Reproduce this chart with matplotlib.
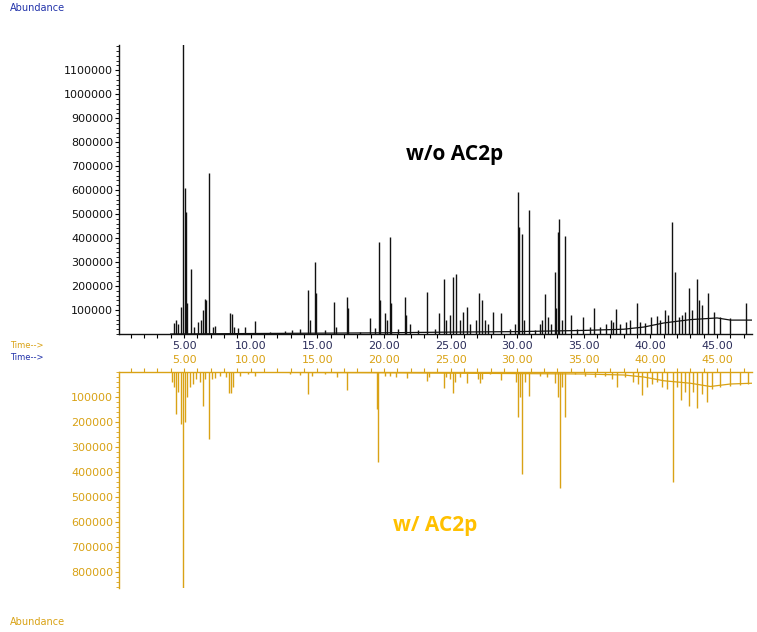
import matplotlib
matplotlib.use("Agg")
import matplotlib.pyplot as plt
from matplotlib.ticker import MultipleLocator, FormatStrFormatter

# retention time (min) and abundance of the main peaks
top_peak_t = [4.25, 4.4, 4.55, 4.78, 4.93, 5.08, 5.15, 5.22, 5.53, 5.75, 6.05, 6.28, 6.43, 6.58,
              6.65, 6.88, 7.18, 7.33, 8.45, 8.6, 8.75, 9.05, 9.58, 10.33, 11.45, 12.58, 13.1,
              13.7, 14.3, 14.45, 14.83, 14.9, 15.58, 16.25, 16.4, 17.23, 17.3, 18.2, 18.95,
              19.33, 19.63, 19.7, 20.08, 20.23, 20.45, 20.53, 21.05, 21.58, 21.65, 21.95, 22.55,
              23.23, 23.83, 24.13, 24.5, 24.65, 24.95, 25.18, 25.4, 25.7, 25.93, 26.23, 26.45,
              26.9, 27.13, 27.36, 27.58, 27.8, 28.18, 28.78, 29.45, 29.83, 30.06, 30.13, 30.36,
              30.5, 30.88, 31.33, 31.7, 31.85, 32.08, 32.3, 32.53, 32.83, 32.9, 33.05, 33.13,
              33.35, 33.58, 34.03, 34.48, 34.93, 35.46, 35.76, 36.2, 36.66, 37.03, 37.18, 37.41,
              37.71, 38.16, 38.46, 38.98, 39.2, 39.58, 40.03, 40.48, 40.7, 41.08, 41.3, 41.6,
              41.83, 42.13, 42.36, 42.58, 42.88, 43.1, 43.48, 43.63, 43.86, 44.31, 44.76, 45.21,
              45.96, 47.16]
top_peak_h = [46000, 60000, 40000, 112000, 1300000, 608000, 508000, 129000, 271000, 30000, 50000,
              60000, 100000, 146000, 140000, 670000, 30000, 35000, 88000, 85000, 30000, 25000,
              30000, 54000, 10000, 12000, 15000, 20000, 183000, 60000, 300000, 171000, 15000,
              133000, 30000, 154000, 110000, 10000, 67000, 25000, 383000, 140000, 88000, 60000,
              404000, 130000, 20000, 154000, 80000, 40000, 15000, 175000, 20000, 88000, 229000,
              60000, 80000, 238000, 250000, 60000, 90000, 112000, 40000, 60000, 171000, 142000,
              60000, 40000, 92000, 88000, 20000, 40000, 592000, 446000, 417000, 60000, 517000,
              15000, 40000, 60000, 167000, 70000, 40000, 258000, 110000, 425000, 479000, 60000,
              408000, 79000, 20000, 70000, 30000, 108000, 30000, 40000, 60000, 50000, 104000,
              40000, 50000, 60000, 129000, 50000, 45000, 70000, 75000, 60000, 100000, 80000,
              467000, 258000, 70000, 80000, 90000, 192000, 100000, 229000, 140000, 120000,
              171000, 90000, 70000, 65000, 129000]
top_base_t = [4.0, 10.0, 20.0, 25.0, 30.0, 35.0, 38.0, 39.5, 41.0, 43.0, 45.0, 46.0, 47.6]
top_base_h = [0, 2000, 5000, 8000, 10000, 15000, 20000, 29000, 46000, 60000, 67000, 58000, 58000]

bot_peak_t = [4.1, 4.25, 4.4, 4.55, 4.78, 4.93, 5.08, 5.22, 5.45, 5.68, 5.9, 6.2, 6.43, 6.58, 6.88,
              7.1, 7.33, 7.7, 8.15, 8.38, 8.53, 8.68, 9.2, 9.8, 10.33, 12.95, 13.7, 14.3, 14.6,
              15.58, 16.48, 17.23, 19.48, 19.55, 20.08, 20.45, 20.9, 21.73, 23.23, 23.38, 24.5,
              24.65, 24.95, 25.18, 25.33, 25.7, 26.23, 27.06, 27.2, 27.36, 27.96, 28.78, 29.9,
              30.06, 30.2, 30.36, 30.58, 30.88, 31.7, 32.23, 32.83, 33.05, 33.2, 33.35, 33.58,
              34.33, 35.08, 35.83, 36.58, 37.1, 37.48, 38.08, 38.68, 39.06, 39.36, 39.73, 40.1,
              40.48, 40.86, 41.23, 41.68, 41.98, 42.28, 42.58, 42.88, 43.18, 43.48, 43.86, 44.23,
              44.61, 45.21, 45.96, 46.7, 47.31]
bot_peak_h = [40000, 60000, 168000, 80000, 208000, 900000, 200000, 100000, 60000, 50000, 30000,
              40000, 136000, 30000, 268000, 30000, 25000, 15000, 20000, 84000, 84000, 60000,
              15000, 10000, 15000, 10000, 12000, 88000, 15000, 10000, 20000, 72000, 148000,
              360000, 15000, 15000, 20000, 24000, 36000, 20000, 64000, 20000, 30000, 84000, 40000,
              20000, 44000, 30000, 44000, 30000, 10000, 32000, 40000, 180000, 100000, 408000,
              40000, 96000, 15000, 20000, 44000, 100000, 464000, 60000, 180000, 10000, 15000,
              20000, 15000, 30000, 60000, 20000, 40000, 50000, 92000, 60000, 50000, 40000, 60000,
              70000, 440000, 60000, 112000, 80000, 136000, 80000, 144000, 90000, 120000, 70000,
              60000, 55000, 52000, 50000]
bot_base_t = [4.0, 20.0, 35.0, 38.0, 39.5, 41.0, 43.0, 44.5, 46.0, 47.6]
bot_base_h = [0, 3000, 8000, 12000, 20000, 35000, 45000, 58000, 48000, 45000]

top_yticks = [100000, 200000, 300000, 400000, 500000, 600000, 700000, 800000, 900000, 1000000, 1100000]
bot_yticks = [100000, 200000, 300000, 400000, 500000, 600000, 700000, 800000]

black = "#111111"
gold = "#d9a215"
navy = "#2b2d5a"
blue = "#2233aa"

plt.rcParams['font.family'] = ['DejaVu Sans']

fig = plt.figure(figsize=(7.57, 6.32), dpi=100)

# upper chromatogram
ax1 = fig.add_axes([0.157, 0.4715, 0.836, 0.457])
ax1.vlines(top_peak_t, 0, top_peak_h, color=black, lw=1.0)
ax1.plot(top_base_t, top_base_h, color=black, lw=0.9)
ax1.set_xlim(0.1, 47.6)
ax1.set_ylim(0, 1204000)
ax1.set_yticks(top_yticks)
ax1.yaxis.set_major_formatter(FormatStrFormatter('%d'))
ax1.yaxis.set_minor_locator(MultipleLocator(20000))
ax1.xaxis.set_major_locator(MultipleLocator(5))
ax1.xaxis.set_minor_locator(MultipleLocator(1))
ax1.xaxis.set_major_formatter(FormatStrFormatter('%.2f'))
for s in ['top', 'right']:
    ax1.spines[s].set_visible(False)
for s in ['left', 'bottom']:
    ax1.spines[s].set_color(black)
    ax1.spines[s].set_linewidth(1.0)
ax1.tick_params(axis='y', which='major', length=3, width=0.8, labelsize=8, labelcolor=black, pad=1)
ax1.tick_params(axis='y', which='minor', length=2, width=0.6)
ax1.tick_params(axis='x', which='both', length=3, width=0.8, labelsize=8, labelcolor=navy, pad=2)

# lower chromatogram, drawn downward
ax2 = fig.add_axes([0.157, 0.0696, 0.836, 0.3418])
ax2.vlines(bot_peak_t, 0, bot_peak_h, color=gold, lw=1.0)
ax2.plot(bot_base_t, bot_base_h, color=gold, lw=0.9)
ax2.set_xlim(0.1, 47.6)
ax2.set_ylim(864000, 0)
ax2.set_yticks(bot_yticks)
ax2.yaxis.set_major_formatter(FormatStrFormatter('%d'))
ax2.yaxis.set_minor_locator(MultipleLocator(20000))
ax2.xaxis.set_major_locator(MultipleLocator(5))
ax2.xaxis.set_minor_locator(MultipleLocator(1))
ax2.xaxis.set_major_formatter(FormatStrFormatter('%.2f'))
ax2.xaxis.tick_top()
for s in ['bottom', 'right']:
    ax2.spines[s].set_visible(False)
for s in ['left', 'top']:
    ax2.spines[s].set_color(gold)
    ax2.spines[s].set_linewidth(1.0)
ax2.tick_params(axis='y', which='major', length=3, width=0.8, color=gold, labelsize=8, labelcolor=gold, pad=1)
ax2.tick_params(axis='y', which='minor', length=2, width=0.6, color=gold)
ax2.tick_params(axis='x', which='both', length=3, width=0.8, color=gold, labelsize=8, labelcolor=gold, pad=2)

fig.text(0.013, 1 - 8 / 632, "Abundance", color=blue, fontsize=7, va='center')
fig.text(0.013, 1 - 345 / 632, "Time-->", color=gold, fontsize=6, va='center')
fig.text(0.013, 1 - 358 / 632, "Time-->", color=blue, fontsize=6, va='center')
fig.text(0.013, 1 - 622 / 632, "Abundance", color=gold, fontsize=7, va='center')

fig.text(0.601, 0.755, "w/o AC2p", color='black', fontsize=15, fontweight='bold',
         family='Open Sans', ha='center', va='center')
fig.text(0.575, 0.169, "w/ AC2p", color='#ffc000', fontsize=15, fontweight='bold',
         family='Open Sans', ha='center', va='center')

fig.savefig("out.png", dpi=100)
